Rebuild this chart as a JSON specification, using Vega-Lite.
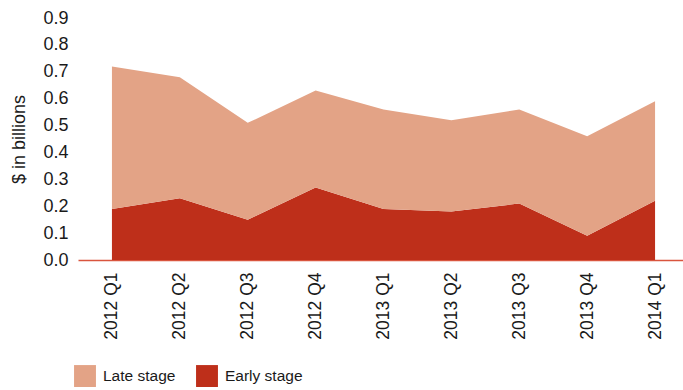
{
  "$schema": "https://vega.github.io/schema/vega-lite/v6.json",
  "width": 611,
  "height": 242,
  "autosize": {"type": "none"},
  "padding": {"left": 78, "top": 18, "right": 0, "bottom": 130},
  "config": {
    "font": "Liberation Sans",
    "view": {"stroke": null},
    "axis": {"labelFont": "Liberation Sans", "titleFont": "Liberation Sans", "labelColor": "#1a1a1a", "titleColor": "#1a1a1a"}
  },
  "data": {
    "values": [
      {"quarter": "2012 Q1", "stage": "Early stage", "value": 0.19},
      {"quarter": "2012 Q2", "stage": "Early stage", "value": 0.23},
      {"quarter": "2012 Q3", "stage": "Early stage", "value": 0.15},
      {"quarter": "2012 Q4", "stage": "Early stage", "value": 0.27},
      {"quarter": "2013 Q1", "stage": "Early stage", "value": 0.19},
      {"quarter": "2013 Q2", "stage": "Early stage", "value": 0.18},
      {"quarter": "2013 Q3", "stage": "Early stage", "value": 0.21},
      {"quarter": "2013 Q4", "stage": "Early stage", "value": 0.09},
      {"quarter": "2014 Q1", "stage": "Early stage", "value": 0.22},
      {"quarter": "2012 Q1", "stage": "Late stage", "value": 0.53},
      {"quarter": "2012 Q2", "stage": "Late stage", "value": 0.45},
      {"quarter": "2012 Q3", "stage": "Late stage", "value": 0.36},
      {"quarter": "2012 Q4", "stage": "Late stage", "value": 0.36},
      {"quarter": "2013 Q1", "stage": "Late stage", "value": 0.37},
      {"quarter": "2013 Q2", "stage": "Late stage", "value": 0.34},
      {"quarter": "2013 Q3", "stage": "Late stage", "value": 0.35},
      {"quarter": "2013 Q4", "stage": "Late stage", "value": 0.37},
      {"quarter": "2014 Q1", "stage": "Late stage", "value": 0.37}
    ]
  },
  "mark": {"type": "area", "interpolate": "linear"},
  "encoding": {
    "x": {
      "field": "quarter",
      "type": "ordinal",
      "scale": {"type": "point", "padding": 0.5},
      "axis": {
        "title": null,
        "labelAngle": -90,
        "labelFontSize": 17.5,
        "labelPadding": 12,
        "ticks": false,
        "domainColor": "#D9553E",
        "domainWidth": 1.5,
        "grid": false
      }
    },
    "y": {
      "field": "value",
      "type": "quantitative",
      "stack": "zero",
      "scale": {"domain": [0, 0.9], "nice": false},
      "axis": {
        "title": "$ in billions",
        "titleFontSize": 18,
        "titleFontWeight": "normal",
        "titlePadding": 14,
        "labelFontSize": 18,
        "labelPadding": 10,
        "format": ".1f",
        "values": [0, 0.1, 0.2, 0.3, 0.4, 0.5, 0.6, 0.7, 0.8, 0.9],
        "ticks": false,
        "domain": false,
        "grid": false
      }
    },
    "color": {
      "field": "stage",
      "type": "nominal",
      "scale": {"domain": ["Late stage", "Early stage"], "range": ["#E3A386", "#BE2F1A"]},
      "legend": {
        "title": null,
        "orient": "none",
        "direction": "horizontal",
        "legendX": -4,
        "legendY": 347,
        "symbolType": "square",
        "symbolSize": 480,
        "symbolStrokeWidth": 0,
        "labelFontSize": 15.5,
        "labelColor": "#1a1a1a",
        "labelOffset": 7,
        "columnPadding": 20
      }
    },
    "order": {"field": "stage", "sort": "ascending"}
  }
}
